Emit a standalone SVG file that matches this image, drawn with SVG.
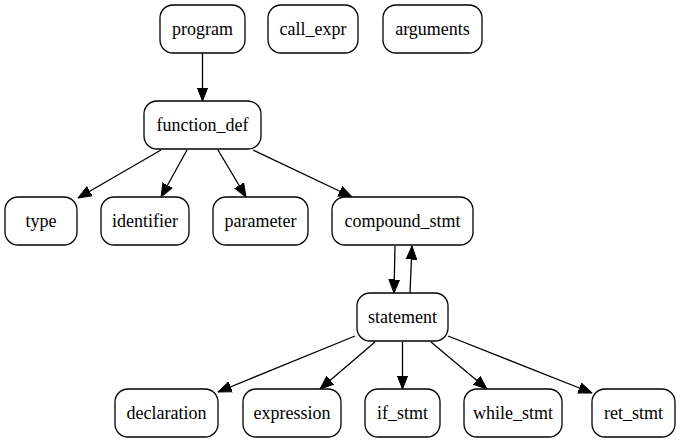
<svg xmlns="http://www.w3.org/2000/svg" width="680" height="443" viewBox="0 0 680 443">
<style>
.n rect{fill:#fff;stroke:#000;stroke-width:1.3}
.n text{font-family:"Liberation Serif","Times New Roman",serif;font-size:18px;text-anchor:middle;fill:#000}
.e line{stroke:#000;stroke-width:1.3;marker-end:url(#ah)}
</style>
<defs>
<marker id="ah" markerUnits="userSpaceOnUse" viewBox="0 -6 14 12" refX="13.5" refY="0" markerWidth="14" markerHeight="12" orient="auto">
<path d="M0,-5.3 L13.5,0 L0,5.3 Z" fill="#000" stroke="#000" stroke-width="1"/>
</marker>
</defs>
<rect width="680" height="443" fill="#fff"/>
<g class="e" id="edges">
<line x1="202.5" y1="53" x2="202.5" y2="101"/>
<line x1="161" y1="150" x2="78" y2="198"/>
<line x1="187" y1="150" x2="161" y2="197"/>
<line x1="218" y1="150" x2="246" y2="197"/>
<line x1="253" y1="150" x2="352" y2="197"/>
<line x1="395" y1="246" x2="394" y2="293"/>
<line x1="410" y1="293" x2="412" y2="246"/>
<line x1="355" y1="336" x2="218" y2="392"/>
<line x1="375" y1="342" x2="320" y2="389"/>
<line x1="402.5" y1="342" x2="402.5" y2="389"/>
<line x1="431" y1="342" x2="487" y2="389"/>
<line x1="448" y1="336" x2="592" y2="393"/>
</g>
<g class="n" id="program"><rect x="160" y="5" width="85" height="48" rx="13"/><text x="202.5" y="35">program</text></g>
<g class="n" id="call_expr"><rect x="268" y="5" width="90" height="48" rx="13"/><text x="313" y="35">call_expr</text></g>
<g class="n" id="arguments"><rect x="383" y="5" width="99" height="48" rx="13"/><text x="432.5" y="35">arguments</text></g>
<g class="n" id="function_def"><rect x="144" y="101" width="117" height="48" rx="13"/><text x="202.5" y="131">function_def</text></g>
<g class="n" id="type"><rect x="5" y="197" width="72" height="48" rx="13"/><text x="41" y="227">type</text></g>
<g class="n" id="identifier"><rect x="101" y="197" width="88" height="48" rx="13"/><text x="145" y="227">identifier</text></g>
<g class="n" id="parameter"><rect x="213" y="197" width="95" height="48" rx="13"/><text x="260.5" y="227">parameter</text></g>
<g class="n" id="compound_stmt"><rect x="332" y="197" width="141" height="48" rx="13"/><text x="402.5" y="227">compound_stmt</text></g>
<g class="n" id="statement"><rect x="357" y="293" width="91" height="48" rx="13"/><text x="402.5" y="323">statement</text></g>
<g class="n" id="declaration"><rect x="115" y="389" width="103" height="48" rx="13"/><text x="166.5" y="419">declaration</text></g>
<g class="n" id="expression"><rect x="243" y="389" width="98" height="48" rx="13"/><text x="292" y="419">expression</text></g>
<g class="n" id="if_stmt"><rect x="365" y="389" width="75" height="48" rx="13"/><text x="402.5" y="419">if_stmt</text></g>
<g class="n" id="while_stmt"><rect x="464" y="389" width="98" height="48" rx="13"/><text x="513" y="419">while_stmt</text></g>
<g class="n" id="ret_stmt"><rect x="592" y="389" width="83" height="48" rx="13"/><text x="633.5" y="419">ret_stmt</text></g>
</svg>
